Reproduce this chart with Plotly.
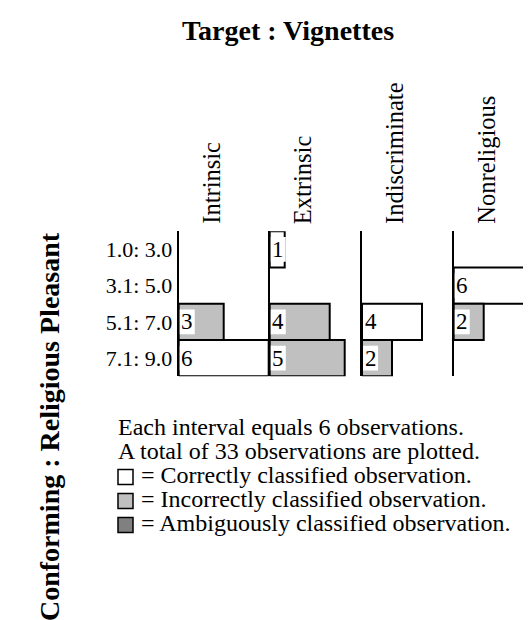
import plotly.graph_objects as go

# ---------------- data ----------------
classes = ["Intrinsic", "Extrinsic", "Indiscriminate", "Nonreligious"]
intervals = ["1.0: 3.0", "3.1: 5.0", "5.1: 7.0", "7.1: 9.0"]

intrinsic_counts = [0, 0, 3, 6]
extrinsic_counts = [1, 0, 4, 5]
indiscriminate_counts = [0, 0, 4, 2]
nonreligious_counts = [0, 6, 2, 0]

intrinsic_status = ["", "", "incorrect", "correct"]
extrinsic_status = ["correct", "", "incorrect", "incorrect"]
indiscriminate_status = ["", "", "correct", "incorrect"]
nonreligious_status = ["", "correct", "incorrect", ""]

legend_status = ["correct", "incorrect", "ambiguous"]
legend_texts = [
    "= Correctly classified observation.",
    "= Incorrectly classified observation.",
    "= Ambiguously classified observation.",
]
note_lines = ["Each interval equals 6 observations.",
              "A total of 33 observations are plotted."]
title_text = "Target : Vignettes"
row_title = "Conforming : Religious Pleasant"

# ---------------- style ----------------
W, H = 531, 620
SERIF = "Liberation Serif, Times New Roman, serif"
status_color = {"correct": "#ffffff", "incorrect": "#c0c0c0", "ambiguous": "#808080"}

all_counts = [intrinsic_counts, extrinsic_counts, indiscriminate_counts, nonreligious_counts]
all_status = [intrinsic_status, extrinsic_status, indiscriminate_status, nonreligious_status]

px_per_unit = 15.0
axis_px = [170.7, 261.7, 354.0, 445.7]
row_top_px, row_bot_px = 223.3, 368.3


def px2x(p):
    return p / W


def px2y(p):
    return 1 - p / H


fig = go.Figure()
layout_axes = {}
annotations = []

for k, (name, counts, status) in enumerate(zip(classes, all_counts, all_status)):
    i = k + 1
    xa = "x" if i == 1 else f"x{i}"
    ya = "y" if i == 1 else f"y{i}"
    x0 = axis_px[k]
    x1 = min(x0 + 6 * px_per_unit, W)
    xmax = (x1 - x0) / px_per_unit

    rows = [r for r, c in enumerate(counts) if c > 0]
    vals = [counts[r] for r in rows]
    cols = [status_color[status[r]] for r in rows]

    fig.add_trace(go.Bar(
        x=vals, y=rows, orientation="h", width=1.0,
        marker=dict(color=cols, line=dict(color="black", width=2)),
        xaxis=xa, yaxis=ya, hoverinfo="skip",
    ))
    # white label background boxes
    fig.add_trace(go.Bar(
        x=[1.0] * len(rows), y=rows, base=[0.07] * len(rows), orientation="h",
        width=0.68, marker=dict(color="white", line=dict(width=0)),
        xaxis=xa, yaxis=ya, hoverinfo="skip",
    ))
    for r, v in zip(rows, vals):
        annotations.append(dict(
            xref=xa, yref=ya, x=0.05, y=r, xanchor="left", yanchor="middle",
            text=str(v), showarrow=False, yshift=0,
            font=dict(family=SERIF, size=23, color="black"),
        ))

    # column header
    annotations.append(dict(
        xref=f"{xa} domain", yref="paper", x=0, xshift=33, y=px2y(218),
        xanchor="center", yanchor="bottom", textangle=-90, text=name,
        showarrow=False, font=dict(family=SERIF, size=24.5, color="black"),
    ))

    xkey = "xaxis" if i == 1 else f"xaxis{i}"
    ykey = "yaxis" if i == 1 else f"yaxis{i}"
    layout_axes[xkey] = dict(
        domain=[px2x(x0), px2x(x1)], range=[0, xmax], anchor=ya,
        visible=False, fixedrange=True,
    )
    layout_axes[ykey] = dict(
        domain=[px2y(row_bot_px), px2y(row_top_px)], range=[3.5, -0.5],
        anchor=xa, showgrid=False, zeroline=False,
        showline=True, linecolor="black", linewidth=2,
        tickvals=list(range(len(intervals))), ticktext=intervals,
        showticklabels=(i == 1), ticks="",
        tickfont=dict(family=SERIF, size=22, color="black"),
        fixedrange=True,
    )

# title
annotations.append(dict(
    xref="paper", yref="paper", x=px2x(280), y=px2y(22), xanchor="center",
    yanchor="middle", text=f"<b>{title_text}</b>", showarrow=False,
    font=dict(family=SERIF, size=28, color="black"),
))
# row variable title
annotations.append(dict(
    xref="paper", yref="paper", x=px2x(41), y=px2y(419), xanchor="center",
    yanchor="middle", textangle=-90, text=f"<b>{row_title}</b>", showarrow=False,
    font=dict(family=SERIF, size=28, color="black"),
))

# notes / legend
line_y = [418.5, 442.5, 466.5, 490.5, 514.5]
for j, t in enumerate(note_lines):
    annotations.append(dict(
        xref="paper", yref="paper", x=px2x(108), y=px2y(line_y[j]),
        xanchor="left", yanchor="middle", text=t, showarrow=False,
        font=dict(family=SERIF, size=24, color="black"),
    ))
shapes = []
for j, (s, t) in enumerate(zip(legend_status, legend_texts)):
    yc = line_y[2 + j]
    annotations.append(dict(
        xref="paper", yref="paper", x=px2x(131), y=px2y(yc),
        xanchor="left", yanchor="middle", text=t, showarrow=False,
        font=dict(family=SERIF, size=24, color="black"),
    ))
    shapes.append(dict(
        type="rect", xref="paper", yref="paper",
        x0=px2x(110), x1=px2x(125), y0=px2y(yc + 10), y1=px2y(yc - 5),
        fillcolor=status_color[s], line=dict(color="black", width=1.5),
    ))

fig.update_layout(
    width=W, height=H, autosize=False,
    margin=dict(l=0, r=0, t=0, b=0, pad=0),
    paper_bgcolor="white", plot_bgcolor="white",
    barmode="overlay", showlegend=False,
    annotations=annotations, shapes=shapes,
    **layout_axes,
)

fig.write_html("out.html")
